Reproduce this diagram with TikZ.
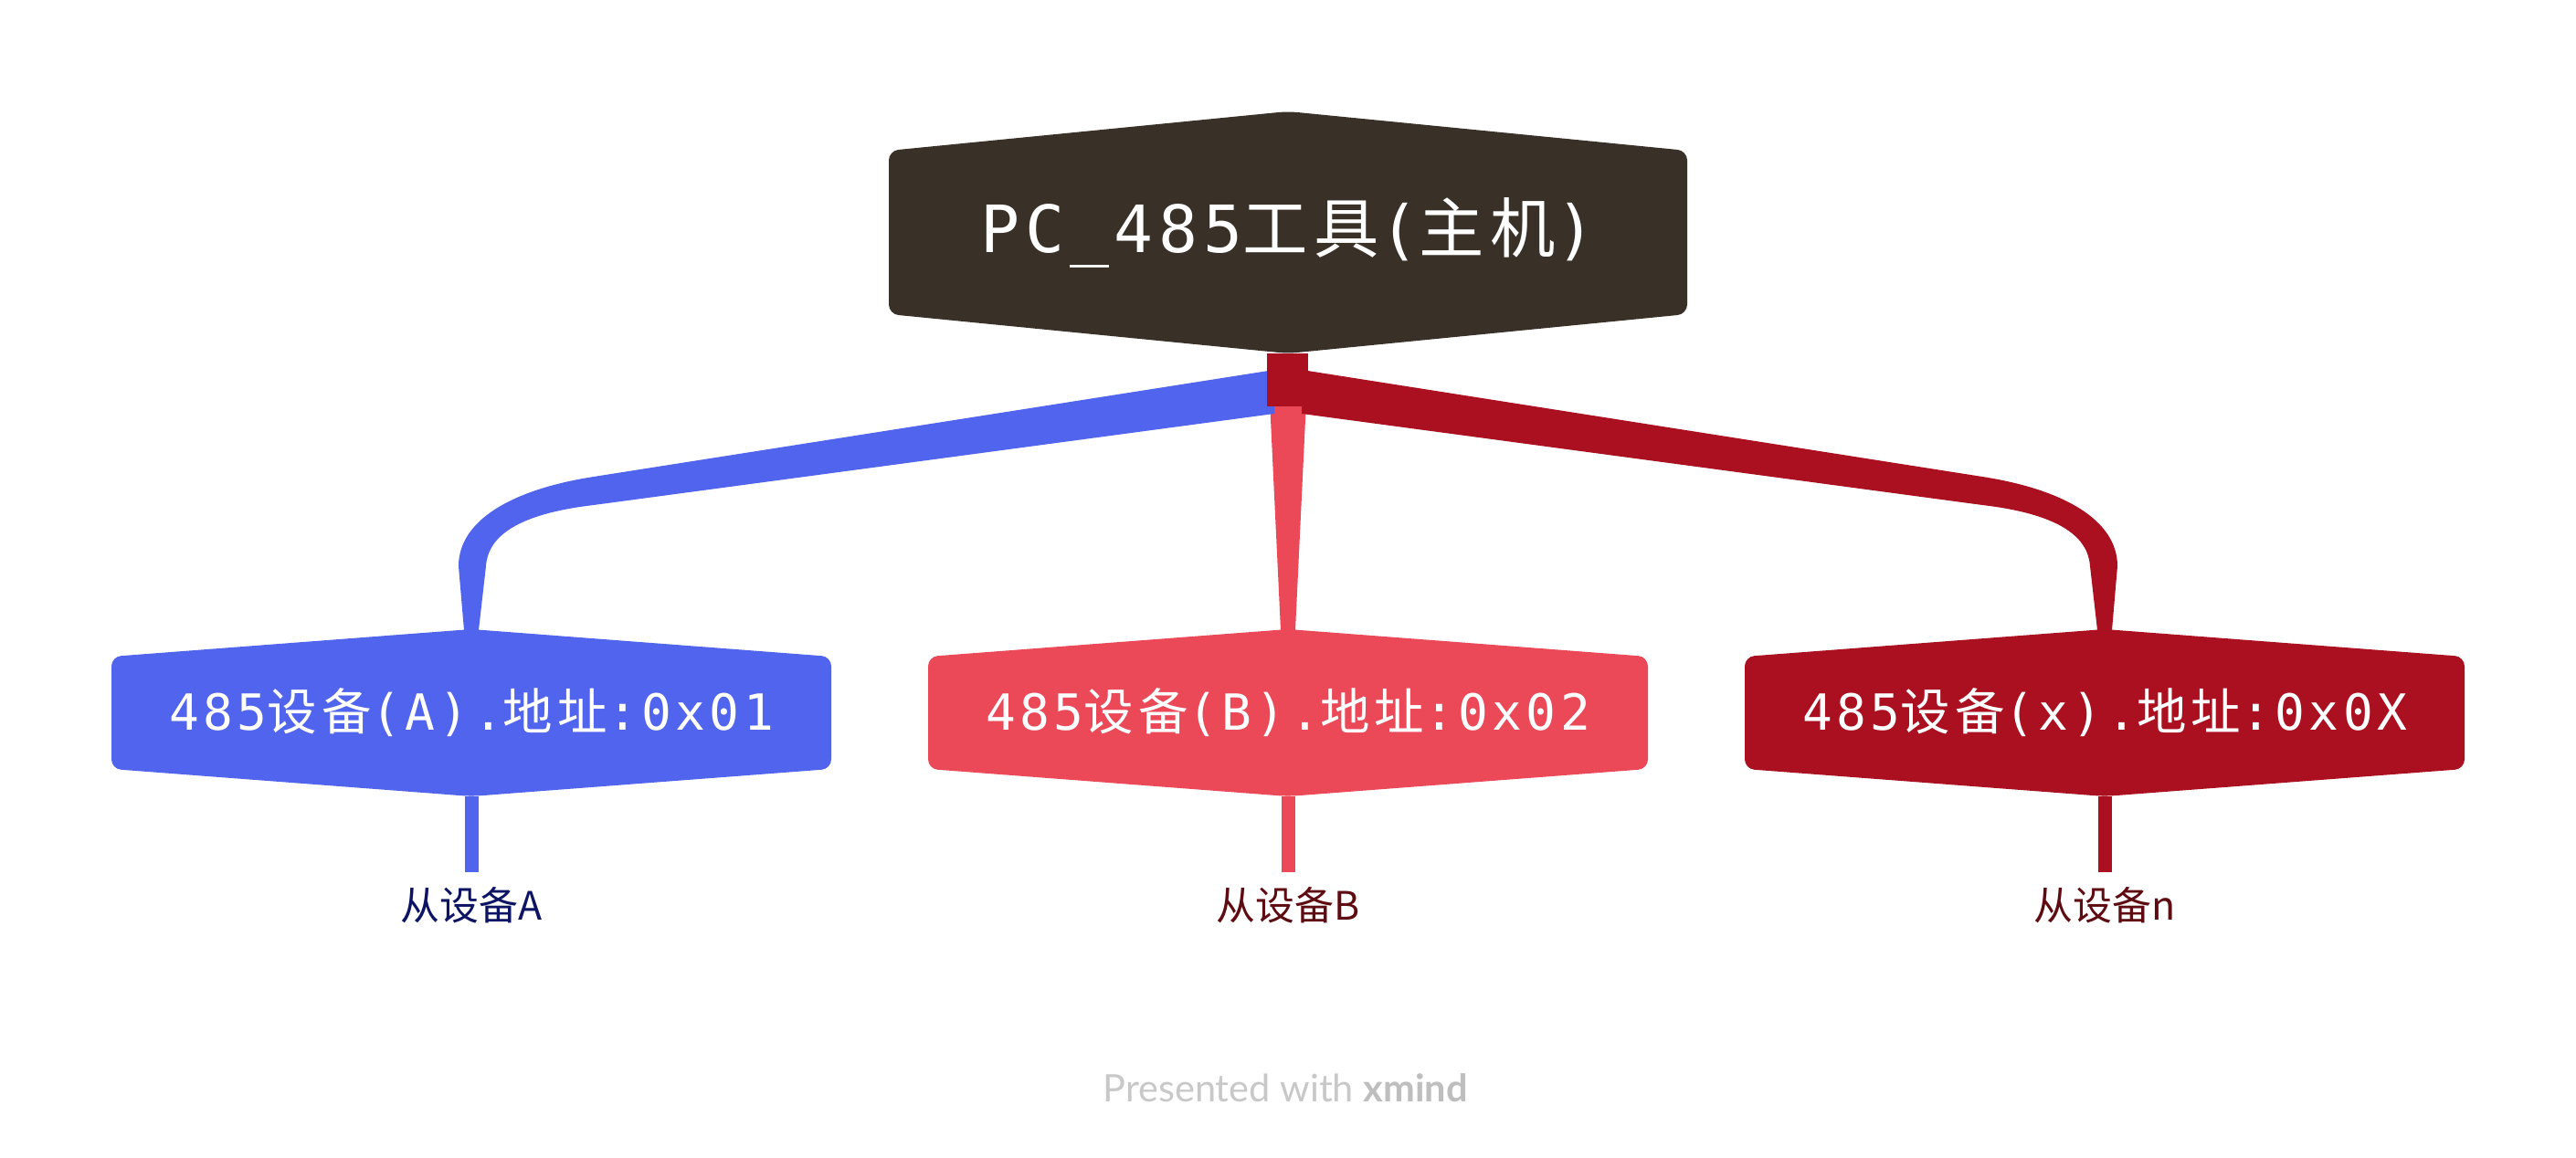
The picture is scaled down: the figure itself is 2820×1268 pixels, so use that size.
\documentclass[tikz,border=0pt]{standalone}
\usepackage{fontspec}
\setmainfont{Noto Sans CJK SC}
\newfontfamily\cjkfont{Noto Sans CJK SC}[LetterSpace=10]
\newfontfamily\monofont{DejaVu Sans Mono}[LetterSpace=8]
\newfontfamily\footfont{Lato}
\usetikzlibrary{positioning,calc}
\definecolor{hostdark}{HTML}{393128}
\definecolor{devblue}{HTML}{5064EE}
\definecolor{devpink}{HTML}{EB4858}
\definecolor{devred}{HTML}{AA101F}
\definecolor{subnavy}{HTML}{0C1463}
\definecolor{submaroon}{HTML}{5E0B12}
\definecolor{footgray}{HTML}{C8C8C8}
\newcommand\mtxt[1]{{\monofont #1}}
\newcommand\ctxt[1]{{\cjkfont #1}}
% hexagonal box: centre, half width, half height, bevel, colour
\newcommand\hexbox[5]{%
  \fill[#5, rounded corners=3pt]
    ($(#1)+(0,-#3)$) -- ($(#1)+(#2,-#3+#4)$) -- ($(#1)+(#2,#3-#4)$)
    -- ($(#1)+(0,#3)$) -- ($(#1)+(-#2,#3-#4)$) -- ($(#1)+(-#2,-#3+#4)$) -- cycle;}

\begin{document}
\begin{tikzpicture}[x=0.01cm, y=-0.01cm,
  hosttext/.style={text=white, font=\fontsize{20.3}{24}\selectfont},
  devtext/.style={text=white, font=\fontsize{15.5}{18}\selectfont},
  subtext/.style={font=\fontsize{12.2}{14}\selectfont},
]
\useasboundingbox[fill=white] (0,0) rectangle (2820,1268);

\coordinate (pc) at (1410,254.5);
\coordinate (pcfoot) at (1410,387);
\foreach \dev/\cx in {devA/516, devB/1410, devX/2304} {
  \coordinate (\dev) at (\cx,780.5);
  \coordinate (\dev-top) at (\cx,689);
  \coordinate (\dev-foot) at (\cx,872);
}

% branches
\fill[devpink] ([shift={(-21,30)}]pcfoot) -- ([shift={(21,30)}]pcfoot)
  -- ([shift={(8,1)}]devB-top) -- ([shift={(-8,1)}]devB-top) -- cycle;
\foreach \s/\t/\dev/\col in {-1/1/devA/devblue, 1/-1/devX/devred} {
  \fill[\col] ([shift={(\s*15,18)}]pcfoot) -- ({1410+\s*760},522)
    .. controls ({1410+\s*850},536) and ([shift={(\s*14,-119)}]\dev-top) .. ([shift={(\s*14,-69)}]\dev-top)
    -- ([shift={(\s*8,1)}]\dev-top) -- ([shift={(\t*8,1)}]\dev-top) -- ([shift={(\t*16,-69)}]\dev-top)
    .. controls ([shift={(\t*18,-101)}]\dev-top) and ({1410+\s*845},563) .. ({1410+\s*760},553)
    -- ([shift={(\s*15,66)}]pcfoot) -- cycle;
}
\fill[devred] ([shift={(-23,0)}]pcfoot) rectangle ([shift={(22,58)}]pcfoot);

% host
\hexbox{pc}{437}{132.5}{43}{hostdark}
\node[hosttext] (host) at (pc) {\mtxt{PC\_485}\ctxt{工具}\mtxt{(}\ctxt{主机}\mtxt{)}};

% slaves
\foreach \dev/\col/\lcol/\txt/\lbl in {%
  devA/devblue/subnavy/{\mtxt{485}\ctxt{设备}\mtxt{(A).}\ctxt{地址}\mtxt{:0x01}}/{从设备A},
  devB/devpink/submaroon/{\mtxt{485}\ctxt{设备}\mtxt{(B).}\ctxt{地址}\mtxt{:0x02}}/{从设备B},
  devX/devred/submaroon/{\mtxt{485}\ctxt{设备}\mtxt{(x).}\ctxt{地址}\mtxt{:0x0X}}/{从设备n}%
} {
  \fill[\col] ([shift={(-7.5,0)}]\dev-foot) rectangle ([shift={(7.5,83)}]\dev-foot);
  \hexbox{\dev}{394}{91.5}{30}{\col}
  \node[devtext] (\dev-txt) at (\dev) {\txt};
  \node[subtext, text=\lcol] (\dev-lbl) at ($(\dev-foot)+(0,119)$) {\lbl};
}

\node[font=\footfont\fontsize{11.8}{14}\selectfont, text=footgray] (credit) at (1407,1191)
  {Presented with \textcolor{footgray!95!black}{\textbf{xmind}}};
\end{tikzpicture}
\end{document}
